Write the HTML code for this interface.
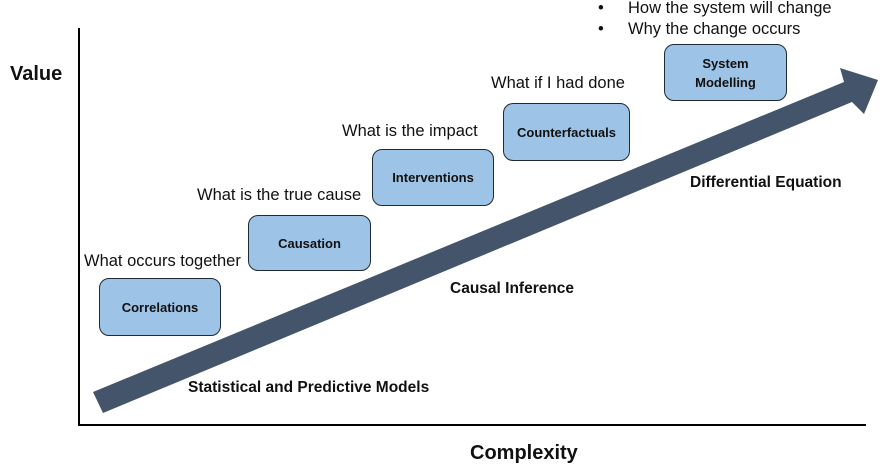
<!DOCTYPE html>
<html><head><meta charset="utf-8"><style>
body{margin:0;width:890px;height:473px;background:#fff;overflow:hidden;position:relative;font-family:"Liberation Sans",sans-serif}
.b{position:absolute;background:#9dc3e6;border:1.3px solid #1f2a36;border-radius:10px;display:flex;align-items:center;justify-content:center;text-align:center;font-weight:bold;font-size:13px;color:#111;line-height:19px;box-sizing:border-box}
.t{position:absolute;font-size:16.5px;color:#111;white-space:nowrap}
.l{position:absolute;font-weight:bold;font-size:15.5px;color:#111;white-space:nowrap}
</style></head><body>
<svg width="890" height="473" style="position:absolute;left:0;top:0">
<line x1="79" y1="28" x2="79" y2="426" stroke="#000" stroke-width="2"/>
<line x1="78" y1="425" x2="866" y2="425" stroke="#000" stroke-width="2"/>
<polygon points="93,392 844,82 840,68 878,80 864,114 852,102 103,413" fill="#44546a"/>
</svg>
<div class="b" style="left:99px;top:278px;width:122px;height:58px">Correlations</div>
<div class="b" style="left:248px;top:215px;width:123px;height:56px">Causation</div>
<div class="b" style="left:372px;top:149px;width:122px;height:57px">Interventions</div>
<div class="b" style="left:503px;top:103px;width:127px;height:58px">Counterfactuals</div>
<div class="b" style="left:664px;top:44px;width:123px;height:57px">System<br>Modelling</div>
<div class="t" style="left:84px;top:252px">What occurs together</div>
<div class="t" style="left:197px;top:186px">What is the true cause</div>
<div class="t" style="left:342px;top:122px">What is the impact</div>
<div class="t" style="left:491px;top:74px">What if I had done</div>
<div class="t" style="left:598px;top:-1px">•<span style="position:absolute;left:30px">How the system will change</span></div>
<div class="t" style="left:598px;top:20px">•<span style="position:absolute;left:30px">Why the change occurs</span></div>
<div class="l" style="left:188px;top:379px">Statistical and Predictive Models</div>
<div class="l" style="left:450px;top:280px">Causal Inference</div>
<div class="l" style="left:690px;top:174px">Differential Equation</div>
<div class="l" style="left:10px;top:63px;font-size:20px">Value</div>
<div class="l" style="left:470px;top:442px;font-size:20px">Complexity</div>
</body></html>
